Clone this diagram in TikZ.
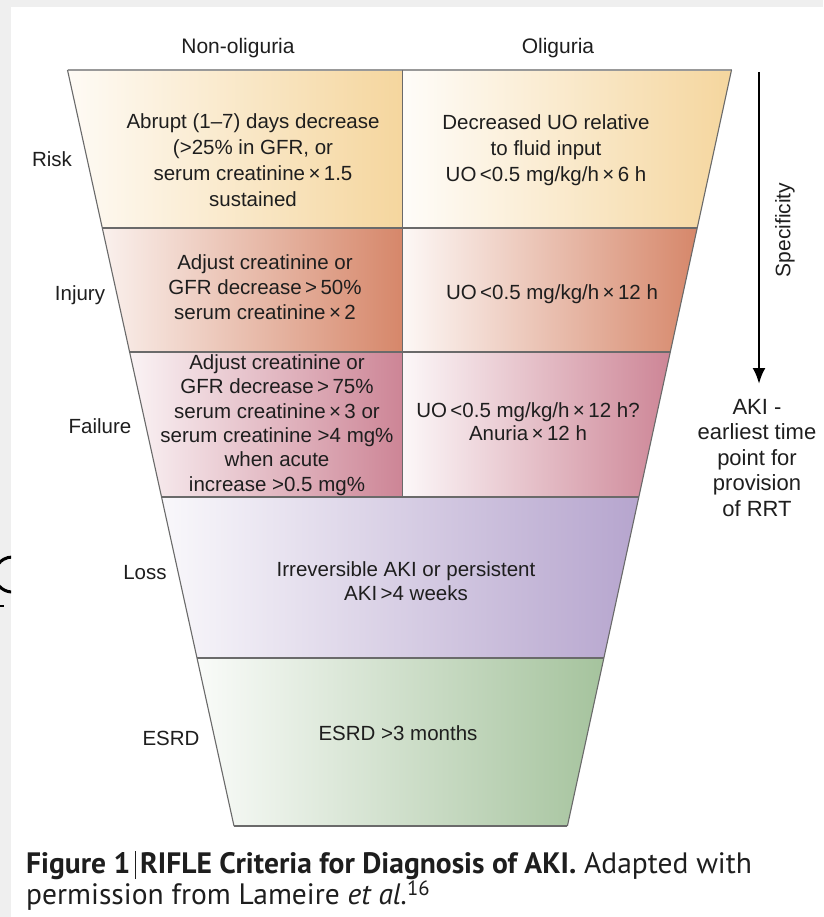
\documentclass[tikz,border=0pt]{standalone}
\usepackage{fontspec}
\setmainfont{Liberation Sans}
\newfontfamily\capfont{PT Sans}
\usetikzlibrary{arrows.meta}
\definecolor{bggray}{HTML}{EFEFEF}
\definecolor{riskC}{HTML}{F5D69E}
\definecolor{injC}{HTML}{D6876A}
\definecolor{failC}{HTML}{CD8596}
\definecolor{lossC}{HTML}{B6A5CE}
\definecolor{esrdC}{HTML}{A5C39D}
\definecolor{edgeC}{HTML}{6A6A6A}
\definecolor{inkC}{HTML}{1E1E1E}
\begin{document}
\begin{tikzpicture}[x=1pt,y=-1pt,
  cell/.style={font=\fontsize{20.5}{25}\selectfont, align=center, inner sep=0pt, text=inkC},
  lab/.style={font=\fontsize{20.5}{24}\selectfont, inner sep=0pt, text=inkC},
  head/.style={font=\fontsize{21}{25}\selectfont, inner sep=0pt, text=inkC},
  sep/.style={draw=edgeC, line width=1.6pt},
  side/.style={draw=edgeC, line width=1.1pt},
  capt/.style={font=\capfont\fontsize{29.5}{29}\selectfont, inner sep=0pt, align=left, anchor=north west, text=inkC}]
\useasboundingbox (0,0) rectangle (823,917);
% background
\fill[bggray] (0,0) rectangle (823,917);
\fill[white] (11,7) rectangle (823,917);
% artifact at left edge
\begin{scope}
\clip (0,0) rectangle (11,917);
\draw[line width=3pt] (12.3,574.5) ++(60:17.5) arc[start angle=60,end angle=300,radius=17.5];
\draw[line width=1.2pt] (0,606) -- (4,606);
\end{scope}
% corner coordinates
\coordinate (L0) at (67.5,70);  \coordinate (M0) at (402,70);  \coordinate (R0) at (731.5,70);
\coordinate (L1) at (102.3,228); \coordinate (M1) at (402,228); \coordinate (R1) at (697.2,228);
\coordinate (L2) at (129.6,352); \coordinate (M2) at (402,352); \coordinate (R2) at (670.3,352);
\coordinate (L3) at (161.5,497); \coordinate (M3) at (402,497); \coordinate (R3) at (638.8,497);
\coordinate (L4) at (197,658);   \coordinate (R4) at (603.9,658);
\coordinate (L5) at (234,826);   \coordinate (R5) at (567.4,826);
% cell shading
\shade[left color=riskC!10, right color=riskC] (L0) -- (M0) -- (M1) -- (L1) -- cycle;
\shade[left color=riskC!6, right color=riskC] (M0) -- (R0) -- (R1) -- (M1) -- cycle;
\shade[left color=injC!12, right color=injC] (L1) -- (M1) -- (M2) -- (L2) -- cycle;
\shade[left color=injC!6, right color=injC] (M1) -- (R1) -- (R2) -- (M2) -- cycle;
\shade[left color=failC!10, right color=failC] (L2) -- (M2) -- (M3) -- (L3) -- cycle;
\shade[left color=failC!6, right color=failC] (M2) -- (R2) -- (R3) -- (M3) -- cycle;
\shade[left color=lossC!8, right color=lossC] (L3) -- (R3) -- (R4) -- (L4) -- cycle;
\shade[left color=esrdC!6, right color=esrdC] (L4) -- (R4) -- (R5) -- (L5) -- cycle;
% lines
\draw[draw=black!40, line width=1.6pt] (L0) -- (R0);
\draw[sep] (L1) -- (R1);
\draw[sep] (L2) -- (R2);
\draw[sep] (L3) -- (R3);
\draw[sep] (L4) -- (R4);
\draw[sep] (L5) -- (R5);
\draw[side] (L0) -- (L5);
\draw[side] (R0) -- (R5);
\draw[draw=edgeC, line width=1pt] (M0) -- (M3);
% headers
\node[head] (hnon) at (238,48) {Non-oliguria};
\node[head] (holi) at (558,48) {Oliguria};
% row labels
\node[lab] (lrisk) at (52,159) {Risk};
\node[lab] (linj) at (80,295) {Injury};
\node[lab] (lfail) at (100,426) {Failure};
\node[lab] (lloss) at (145,573) {Loss};
\node[lab] (lesrd) at (171,738) {ESRD};
% cell texts
\node[cell, font=\fontsize{20.5}{26.2}\selectfont] (risk1) at (253,160)
  {Abrupt (1--7) days decrease\\(>25\% in GFR, or\\serum creatinine\,×\,1.5\\sustained};
\node[cell, font=\fontsize{20.5}{26}\selectfont] (risk2) at (546,150)
  {Decreased UO relative\\to fluid input\\UO\,<0.5 mg/kg/h\,×\,6 h};
\node[cell, font=\fontsize{20.5}{25}\selectfont] (inj1) at (265,287)
  {Adjust creatinine or\\GFR decrease\,>\,50\%\\serum creatinine\,×\,2};
\node[cell] (inj2) at (552,294) {UO\,<0.5 mg/kg/h\,×\,12 h};
\node[cell, font=\fontsize{20.5}{24.4}\selectfont] (fail1) at (277,425)
  {Adjust creatinine or\\GFR decrease\,>\,75\%\\serum creatinine\,×\,3 or\\serum creatinine >4 mg\%\\when acute\\increase >0.5 mg\%};
\node[cell, font=\fontsize{20.5}{23}\selectfont] (fail2) at (528,422)
  {UO\,<0.5 mg/kg/h\,×\,12 h?\\Anuria\,×\,12 h};
\node[cell, font=\fontsize{20.5}{24}\selectfont] (loss) at (406,581)
  {Irreversible AKI or persistent\\AKI\,>4 weeks};
\node[cell] (esrd) at (398,733) {ESRD >3 months};
% specificity arrow
\coordinate (atop) at (759,72);
\coordinate (atip) at (759,384);
\draw[line width=2.6pt, -{Latex[length=16pt,width=13pt]}] (atop) -- (atip);
\node[head, rotate=90] (spec) at (785,230) {Specificity};
\node[cell, font=\fontsize{22}{25.5}\selectfont] (aki) at (757,458)
  {AKI -\\earliest time\\point for\\provision\\of RRT};
% caption
\node[capt] (cap) at (26,851) {\textbf{Figure 1}\hspace{5pt}\rule[-6pt]{0.9pt}{28pt}\hspace{4pt}\textbf{RIFLE Criteria for Diagnosis of AKI.} Adapted with\\
permission from Lameire \textit{et al.}\textsuperscript{16}};
\end{tikzpicture}
\end{document}
